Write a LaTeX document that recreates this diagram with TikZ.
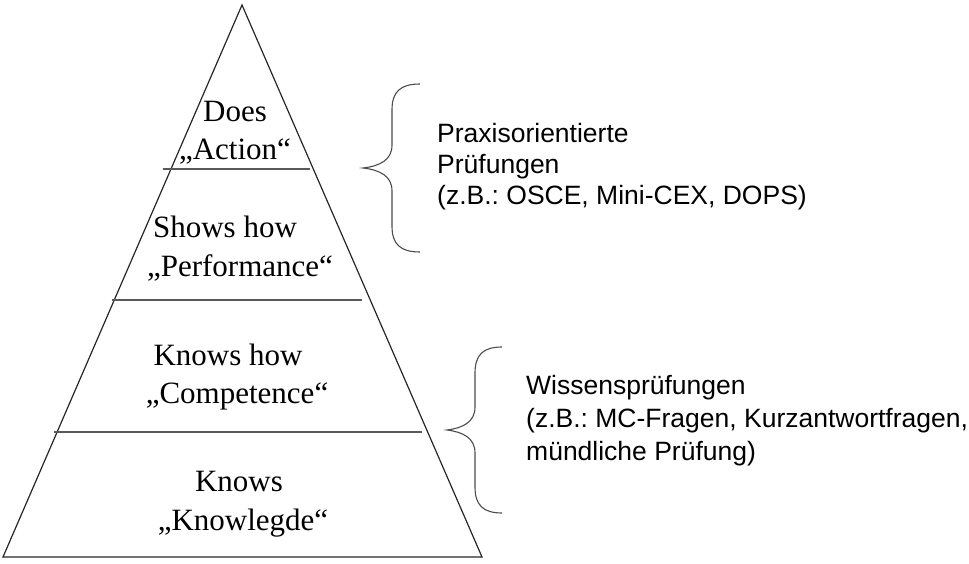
\documentclass[tikz,border=0pt]{standalone}
\usepackage{fontspec}
\setmainfont{Liberation Serif}
\newfontfamily\arialf{Liberation Sans}
\begin{document}
\frenchspacing
\begin{tikzpicture}[x=1pt,y=-1pt,
  lev/.style={font=\fontsize{31}{38}\selectfont, anchor=base, inner sep=0pt},
  rtext/.style={font=\arialf\fontsize{26.5}{#1}\selectfont, align=left, anchor=north west, inner sep=0pt},
  sepline/.style={draw=black!65, line width=1.8pt},
  outline/.style={draw=black!85, line width=1.2pt, line join=miter},
  brace/.style={draw=black!70, line width=1.1pt}]
\useasboundingbox (0,0) rectangle (969,564);
% pyramid
\coordinate (apex) at (242,5);
\coordinate (bl) at (3,557);
\coordinate (br) at (482,557);
\draw[outline] (apex) -- (br) -- (bl) -- cycle;
% separating lines
\coordinate (l1a) at (163,169); \coordinate (l1b) at (310,169);
\coordinate (l2a) at (112,300); \coordinate (l2b) at (362,300);
\coordinate (l3a) at (54,432);  \coordinate (l3b) at (422,432);
\draw[sepline] (l1a) -- (l1b);
\draw[sepline] (l2a) -- (l2b);
\draw[sepline] (l3a) -- (l3b);
% level texts
\node[lev] (does1) at (235,122) {Does};
\node[lev] (does2) at (235,160) {„Action“};
\node[lev] (shows1) at (225,237) {Shows how};
\node[lev] (shows2) at (240,276) {„Performance“};
\node[lev] (kh1) at (228,365) {Knows how};
\node[lev] (kh2) at (237,403) {„Competence“};
\node[lev] (kn1) at (239,491) {Knows};
\node[lev] (kn2) at (243,530) {„Knowlegde“};
% braces
\draw[brace] (420,84) .. controls (400,84) and (392,92) .. (392,110)
  -- (392,145) .. controls (392,160) and (380,166) .. (363,168)
  .. controls (380,170) and (392,176) .. (392,191)
  -- (392,226) .. controls (392,244) and (400,252) .. (420,252);
\draw[brace] (502,347) .. controls (483,347) and (475,355) .. (475,373)
  -- (475,407) .. controls (475,422) and (463,428) .. (447,430)
  .. controls (463,432) and (475,438) .. (475,453)
  -- (475,487) .. controls (475,505) and (483,513) .. (502,513);
% right texts
\node[rtext=31] (praxis) at (437,123) {Praxisorientierte\\Prüfungen\\(z.B.: OSCE, Mini-CEX, DOPS)};
\node[rtext=33] (wissen) at (526,375) {Wissensprüfungen\\(z.B.: MC-Fragen, Kurzantwortfragen,\\mündliche Prüfung)};
\end{tikzpicture}
\end{document}
